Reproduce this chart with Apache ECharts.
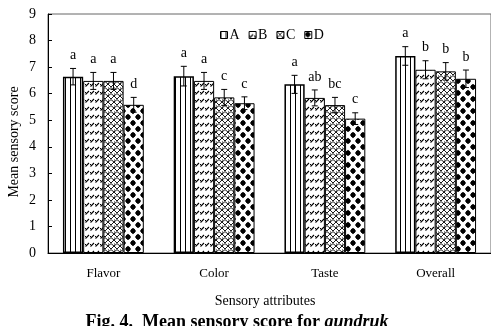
<!DOCTYPE html>
<html><head><meta charset="utf-8">
<script src="https://cdn.jsdelivr.net/npm/echarts@6/dist/echarts.min.js"></script>
<style>html,body{margin:0;padding:0;background:#fff}#c{width:491px;height:326px}</style>
</head><body><div id="c"></div>
<script>
const categories = ['Flavor', 'Color', 'Taste', 'Overall'];
const seriesNames = ['A', 'B', 'C', 'D'];
const valuesA = [6.64, 6.66, 6.35, 7.42];
const valuesB = [6.48, 6.48, 5.84, 6.90];
const valuesC = [6.48, 5.86, 5.57, 6.84];
const valuesD = [5.58, 5.64, 5.06, 6.56];
const errA = [0.31, 0.37, 0.34, 0.35];
const errB = [0.32, 0.32, 0.30, 0.34];
const errC = [0.32, 0.30, 0.29, 0.33];
const errD = [0.28, 0.24, 0.22, 0.33];
const lettersA = ['a', 'a', 'a', 'a'];
const lettersB = ['a', 'a', 'ab', 'b'];
const lettersC = ['a', 'c', 'bc', 'b'];
const lettersD = ['d', 'c', 'c', 'b'];
const yTicks = [0, 1, 2, 3, 4, 5, 6, 7, 8, 9];

const allValues = [valuesA, valuesB, valuesC, valuesD];
const allErr = [errA, errB, errC, errD];
const allLetters = [lettersA, lettersB, lettersC, lettersD];

function mk(w, h, draw) {
  const c = document.createElement('canvas');
  c.width = w; c.height = h;
  const g = c.getContext('2d');
  g.fillStyle = '#fff'; g.fillRect(0, 0, w, h);
  g.strokeStyle = '#000'; g.fillStyle = '#000';
  draw(g);
  return { image: c, repeat: 'repeat' };
}
const patA = mk(5, 4, g => { g.fillRect(0, 0, 1, 4); });
const patB = mk(5, 8, g => {
  g.lineWidth = 1.1;
  g.beginPath(); g.moveTo(0.5, 6.5); g.lineTo(4, 3); g.stroke();
  g.fillRect(0, 4, 1, 1);
});
const patC = mk(6, 6, g => {
  g.lineWidth = 0.9;
  g.beginPath();
  g.moveTo(0, 0); g.lineTo(3, 3); g.lineTo(6, 0);
  g.moveTo(0, 6); g.lineTo(3, 3.6); g.lineTo(6, 6);
  g.moveTo(0, 3); g.lineTo(0, 6);
  g.stroke();
});
const patD = mk(10, 12, g => {
  [[3, 3], [8, 9], [-2, 9], [13, 3]].forEach(([x, y]) => {
    g.beginPath(); g.moveTo(x, y - 3.2); g.lineTo(x + 3, y); g.lineTo(x, y + 3.2); g.lineTo(x - 3, y); g.closePath(); g.fill();
    g.beginPath(); g.arc(x, y, 2.4, 0, Math.PI * 2); g.fill();
  });
});
const patterns = [patA, patB, patC, patD];

const FONT = '"Liberation Serif", "Times New Roman", serif';
const catGapPct = 27;

const chart = echarts.init(document.getElementById('c'), null, { renderer: 'canvas' });

const barSeries = seriesNames.map((n, i) => ({
  name: n, type: 'bar', data: allValues[i],
  barGap: '0%', barCategoryGap: catGapPct + '%',
  itemStyle: { color: patterns[i], borderColor: '#000', borderWidth: i === 0 ? 1.5 : 1 },
  emphasis: { disabled: true }, z: 2
}));

const errData = [];
for (let s = 0; s < 4; s++) for (let c = 0; c < 4; c++) {
  errData.push([c, allValues[s][c], allErr[s][c], s, allLetters[s][c]]);
}

const errSeries = {
  type: 'custom', name: 'err', z: 5, silent: true,
  data: errData,
  encode: { x: 0, y: 1 },
  renderItem: function (params, api) {
    const c = api.value(0), v = api.value(1), e = api.value(2), s = api.value(3);
    const letter = errData[params.dataIndex][4];
    const band = api.size([1, 0])[0];
    const bw = band * (1 - catGapPct / 100) / 4;
    const base = api.coord([c, v]);
    const x = base[0] + (s - 1.5) * bw;
    const yHi = api.coord([c, v + e])[1];
    const yLo = api.coord([c, v - e])[1];
    const cap = 3;
    const st = { stroke: '#000', lineWidth: 1 };
    return {
      type: 'group', children: [
        { type: 'line', shape: { x1: x, y1: yLo, x2: x, y2: yHi }, style: st },
        { type: 'line', shape: { x1: x - cap, y1: yHi, x2: x + cap, y2: yHi }, style: st },
        { type: 'line', shape: { x1: x - cap, y1: yLo, x2: x + cap, y2: yLo }, style: st },
        { type: 'text', x: x, y: yHi - 13, style: { text: letter, fill: '#000', font: '14px ' + FONT, textAlign: 'center', textVerticalAlign: 'middle' } }
      ]
    };
  }
};

chart.setOption({
  animation: false,
  backgroundColor: '#fff',
  grid: { left: 48, top: 14, right: -1, bottom: 73, show: true, borderColor: '#666', borderWidth: 1, backgroundColor: 'transparent' },
  legend: {
    data: seriesNames, left: 215, top: 23, itemWidth: 7, itemHeight: 7, itemGap: 9,
    icon: 'rect', selectedMode: false,
    textStyle: { fontFamily: FONT, fontSize: 14, color: '#000', padding: [0, 0, 0, -3] },
    itemStyle: { borderColor: '#000', borderWidth: 1 }
  },
  xAxis: {
    type: 'category', data: categories,
    axisLine: { lineStyle: { color: '#000', width: 1 } },
    axisTick: { inside: true, length: 4, lineStyle: { color: '#000' } },
    axisLabel: { fontFamily: FONT, fontSize: 13, color: '#000', margin: 14 },
    splitLine: { show: false }
  },
  yAxis: {
    type: 'value', min: yTicks[0], max: yTicks[yTicks.length - 1], interval: 1,
    axisLine: { show: true, lineStyle: { color: '#000', width: 1 } },
    axisTick: { show: true, inside: true, length: 4, lineStyle: { color: '#000' } },
    axisLabel: { fontFamily: FONT, fontSize: 14, color: '#000', margin: 12 },
    splitLine: { show: false }
  },
  graphic: [
    { type: 'text', x: 14, y: 142, rotation: Math.PI / 2, style: { text: 'Mean sensory score', font: '14px ' + FONT, fill: '#000', textAlign: 'center', textVerticalAlign: 'middle' } },
    { type: 'text', x: 265, y: 301, style: { text: 'Sensory attributes', font: '14px ' + FONT, fill: '#000', textAlign: 'center', textVerticalAlign: 'middle' } },
    { type: 'text', x: 237, y: 322, style: {
      text: '{b|Fig. 4.  Mean sensory score for }{i|gundruk}', textAlign: 'center', textVerticalAlign: 'middle',
      rich: { b: { fontFamily: FONT, fontWeight: 'bold', fontSize: 18, fill: '#000' }, i: { fontFamily: FONT, fontWeight: 'bold', fontStyle: 'italic', fontSize: 18, fill: '#000' } }
    } }
  ],
  series: barSeries.concat([errSeries])
});
</script></body></html>
